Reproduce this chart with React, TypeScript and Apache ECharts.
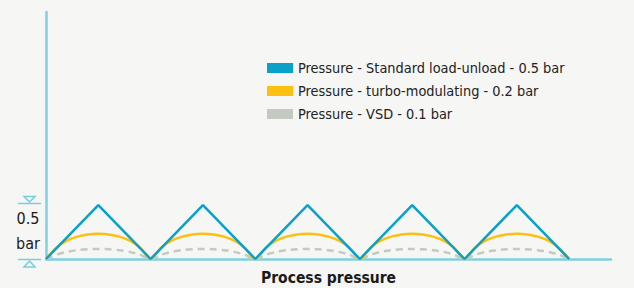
import React, { useEffect, useRef } from "react";
import * as echarts from "echarts";

const cycles = [0, 1, 2, 3, 4];
const seriesNames = [
  "Pressure - Standard load-unload - 0.5 bar",
  "Pressure - turbo-modulating - 0.2 bar",
  "Pressure - VSD - 0.1 bar",
];
const standardPeak = 0.5;
const archFractions = [0, 0.1, 0.2, 0.3, 0.4, 0.5, 0.6, 0.7, 0.8, 0.9, 1];
const turboArch = [0, 0.105, 0.17, 0.207, 0.228, 0.235, 0.228, 0.207, 0.17, 0.105, 0];
const vsdArch = [0, 0.04, 0.066, 0.082, 0.09, 0.093, 0.09, 0.082, 0.066, 0.04, 0];
const yAxisLabelLines = ["0.5", "bar"];
const xAxisName = "Process pressure";

const FONT = "'Liberation Sans Narrow', 'DejaVu Sans Condensed', 'Roboto', sans-serif";

function buildTriangle(): number[][] {
  const pts: number[][] = [];
  cycles.forEach((c) => {
    pts.push([c, 0]);
    pts.push([c + 0.5, standardPeak]);
  });
  pts.push([cycles.length, 0]);
  return pts;
}

function buildArches(arch: number[]): number[][] {
  const pts: number[][] = [];
  cycles.forEach((c) => {
    archFractions.forEach((f, i) => pts.push([c + f, arch[i]]));
  });
  return pts;
}

export default function App() {
  const ref = useRef<HTMLDivElement>(null);
  useEffect(() => {
    if (!ref.current) return;
    const chart = echarts.init(ref.current, undefined, { renderer: "svg" });
    const axisColor = "#7fd0e2";
    const markColor = "#74cde0";
    chart.setOption({
      animation: false,
      backgroundColor: "#f6f6f4",
      grid: { left: 46, right: 23, top: 12, bottom: 29, outerBoundsMode: "none", containLabel: false },
      legend: {
        orient: "vertical",
        left: 262,
        top: 56,
        itemWidth: 26,
        itemHeight: 10,
        itemGap: 9,
        icon: "rect",
        textStyle: { fontSize: 14.4, color: "#222", fontFamily: FONT },
        data: seriesNames,
      },
      xAxis: {
        type: "value",
        min: 0,
        max: 5.4,
        axisLine: { show: true, lineStyle: { color: axisColor, width: 2.5 } },
        axisTick: { show: false },
        axisLabel: { show: false },
        splitLine: { show: false },
        name: xAxisName,
        nameLocation: "middle",
        nameGap: 11,
        nameTextStyle: { fontSize: 15.5, fontWeight: "bold", color: "#1a1a1a", fontFamily: FONT },
      },
      yAxis: {
        type: "value",
        min: 0,
        max: 2.29,
        axisLine: { show: true, lineStyle: { color: axisColor, width: 2.5 } },
        axisTick: { show: false },
        axisLabel: { show: false },
        splitLine: { show: false },
      },
      series: [
        {
          name: seriesNames[0],
          type: "line",
          data: buildTriangle(),
          symbol: "none",
          itemStyle: { color: "#09a1c9" },
          lineStyle: { color: "#09a1c9", width: 2.5 },
          z: 3,
        },
        {
          name: seriesNames[1],
          type: "line",
          data: buildArches(turboArch),
          smooth: 0.3,
          symbol: "none",
          itemStyle: { color: "#fdc010" },
          lineStyle: { color: "#fdc010", width: 2.5 },
          z: 2,
        },
        {
          name: seriesNames[2],
          type: "line",
          data: buildArches(vsdArch),
          smooth: 0.3,
          symbol: "none",
          itemStyle: { color: "#c3cac0" },
          lineStyle: { color: "#c3cac0", width: 2.5, type: [7, 5] },
          z: 1,
        },
      ],
      graphic: [
        { type: "line", shape: { x1: 18, y1: 203.5, x2: 41, y2: 203.5 }, style: { stroke: markColor, lineWidth: 1.5 } },
        { type: "polygon", shape: { points: [[24, 196.5], [35, 196.5], [29.5, 202]] }, style: { fill: "none", stroke: markColor, lineWidth: 1.5 } },
        { type: "line", shape: { x1: 18, y1: 259.5, x2: 41, y2: 259.5 }, style: { stroke: markColor, lineWidth: 1.5 } },
        { type: "polygon", shape: { points: [[24, 267], [35, 267], [29.5, 261]] }, style: { fill: "none", stroke: markColor, lineWidth: 1.5 } },
        {
          type: "text",
          x: 28,
          y: 218,
          style: { text: yAxisLabelLines[0], fontSize: 16, fill: "#1a1a1a", fontFamily: FONT, align: "center", verticalAlign: "middle" },
        },
        {
          type: "text",
          x: 28,
          y: 243,
          style: { text: yAxisLabelLines[1], fontSize: 16, fill: "#1a1a1a", fontFamily: FONT, align: "center", verticalAlign: "middle" },
        },
      ],
    });
    return () => chart.dispose();
  }, []);
  return <div ref={ref} style={{ position: "fixed", left: 0, top: 0, width: 634, height: 288 }} />;
}
